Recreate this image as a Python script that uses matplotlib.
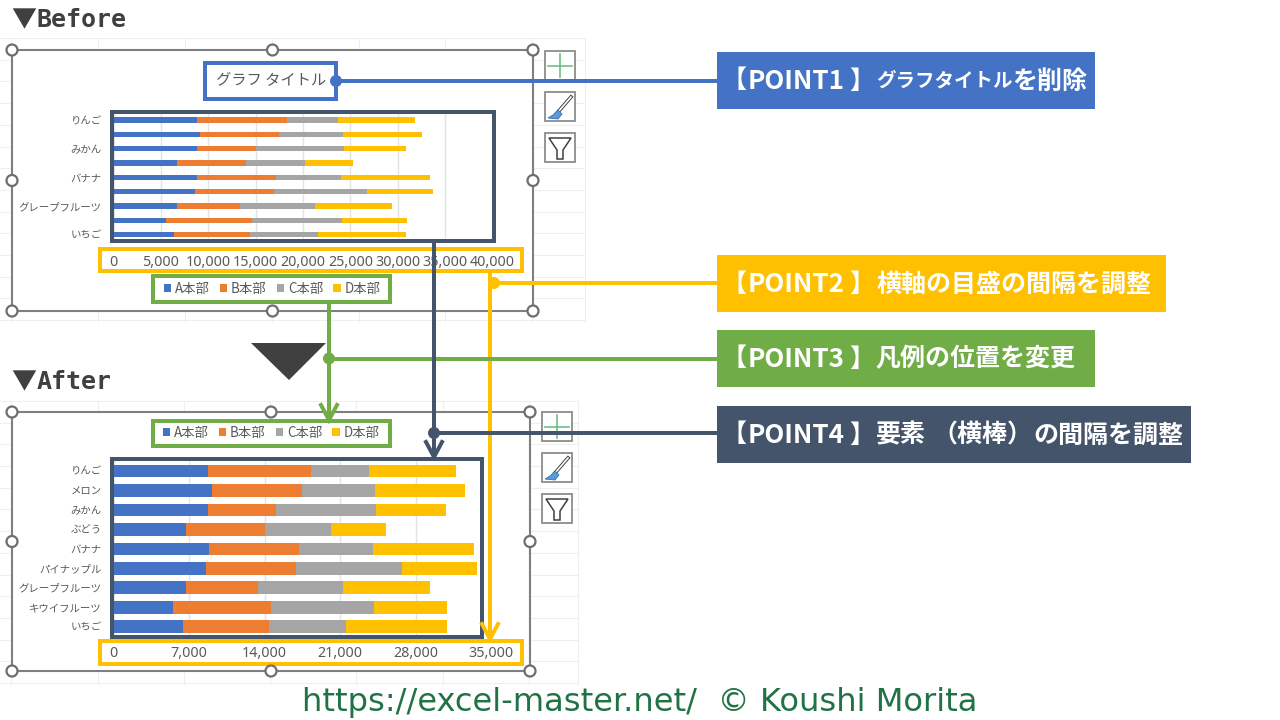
import matplotlib
matplotlib.use('Agg')
import matplotlib.pyplot as plt
from matplotlib.patches import Rectangle, Circle, Polygon

W, H = 1280, 720
JP = ['Noto Sans CJK JP', 'DejaVu Sans']
plt.rcParams['font.family'] = JP

categories = ['りんご', 'メロン', 'みかん', 'ぶどう', 'バナナ', 'パイナップル',
              'グレープフルーツ', 'キウイフルーツ', 'いちご']
before_labels = ['りんご', '', 'みかん', '', 'バナナ', '', 'グレープフルーツ', '', 'いちご']
a_dept = [8750, 9170, 8750, 6690, 8820, 8610, 6690, 5540, 6410]
b_dept = [9590, 8330, 6310, 7320, 8370, 8300, 6690, 9030, 8020]
c_dept = [5330, 6760, 9240, 6140, 6830, 9800, 7880, 9550, 7110]
d_dept = [8120, 8300, 6520, 5090, 9410, 7010, 8120, 6800, 9340]
series_names = ['A本部', 'B本部', 'C本部', 'D本部']
series_colors = ['#4472C4', '#ED7D31', '#A5A5A5', '#FFC000']
before_ticks = [0, 5000, 10000, 15000, 20000, 25000, 30000, 35000, 40000]
after_ticks = [0, 7000, 14000, 21000, 28000, 35000]

BLUE, YELLOW, GREEN, NAVY = '#4472C4', '#FFC000', '#70AD47', '#44546A'
DARK = '#404040'
TEXT = '#595959'
GRID = '#EEEEEE'
EDGE = '#7F7F7F'


def px(v):
    return v * 72 / 100


fig = plt.figure(figsize=(W / 100, H / 100), dpi=100)
bg = fig.add_axes([0, 0, 1, 1], zorder=0)
fg = fig.add_axes([0, 0, 1, 1], zorder=5)
for a in (bg, fg):
    a.set_xlim(0, W)
    a.set_ylim(H, 0)
    a.axis('off')
fg.patch.set_alpha(0)


def sheet(left, right, top, bottom, xs, step):
    y = top
    while y <= bottom:
        bg.plot([left, right], [y, y], color=GRID, lw=0.8)
        y += step
    for x in xs:
        bg.plot([x, x], [top, bottom], color=GRID, lw=0.8)


sheet(0, 585, 38, 322, [11, 98, 185, 272, 359, 445, 532, 585], 21.7)
sheet(0, 578, 401, 684, [11, 98, 184, 270, 356, 443, 529, 578], 21.7)


def frame(l, t, r, b):
    bg.add_patch(Rectangle((l, t), r - l, b - t, fc='white', ec=EDGE, lw=1.5, zorder=3))
    for x in (l, (l + r) / 2, r):
        for y in (t, (t + b) / 2, b):
            if x == (l + r) / 2 and y == (t + b) / 2:
                continue
            fg.add_patch(Circle((x, y), 5.5, fc='white', ec='#6E6E6E', lw=1.6, zorder=8))


def buttons(x, t1, t2, t3):
    w, h = 30, 29
    for t in (t1, t2, t3):
        bg.add_patch(Rectangle((x, t), w, h, fc='white', ec='#8C8C8C', lw=1.3, zorder=3))
    # plus
    bg.plot([x + 15, x + 15], [t1 + 3, t1 + 26], color='#6FBF85', lw=1.2, zorder=4)
    bg.plot([x + 3, x + 27], [t1 + 15, t1 + 15], color='#6FBF85', lw=1.2, zorder=4)
    # brush
    bg.plot([x + 26, x + 13], [t2 + 5, t2 + 20], color='#404040', lw=2.6, zorder=4)
    bg.plot([x + 26, x + 13], [t2 + 5, t2 + 20], color='white', lw=1.2, zorder=4)
    bg.add_patch(Polygon([(x + 13, t2 + 18), (x + 17, t2 + 22), (x + 13, t2 + 27),
                          (x + 3, t2 + 26), (x + 8, t2 + 23)],
                         fc='#5B9BD5', ec='#2E75B6', lw=0.6, zorder=4))
    # funnel
    bg.add_patch(Polygon([(x + 4, t3 + 5), (x + 26, t3 + 5), (x + 18, t3 + 17), (x + 18, t3 + 26),
                          (x + 12, t3 + 26), (x + 12, t3 + 17)],
                         fc='white', ec='#404040', lw=1.1, zorder=4))


frame(12, 50, 533, 311)
frame(12, 412, 530, 671)
buttons(545, 51, 92, 133)
buttons(542, 412, 453, 494)


def bar_chart(left, right, top, bottom, xmax, ticks, ylabels, bar_h, pad, leg_xy):
    ax = fig.add_axes([left / W, 1 - bottom / H, (right - left) / W, (bottom - top) / H], zorder=2)
    ax.patch.set_alpha(0)
    pos = list(range(len(categories)))
    base = [0] * len(categories)
    for vals, name, col in zip([a_dept, b_dept, c_dept, d_dept], series_names, series_colors):
        ax.barh(pos, vals, height=bar_h, left=base, color=col, label=name, zorder=3)
        base = [p + q for p, q in zip(base, vals)]
    ax.set_xlim(0, xmax)
    ax.set_ylim(len(categories) - 0.5, -0.5)
    ax.set_yticks(pos)
    ax.set_yticklabels(ylabels, fontsize=7.5, color=TEXT)
    ax.set_xticks(ticks)
    ax.set_xticklabels([f'{t:,}' for t in ticks], fontsize=10.3, color=TEXT, family='Noto Sans')
    ax.tick_params(axis='both', length=0)
    ax.tick_params(axis='y', pad=px(12))
    ax.tick_params(axis='x', pad=px(pad))
    ax.grid(axis='x', color='#E4E4E4', lw=1, zorder=0)
    for s in ax.spines.values():
        s.set_visible(False)
    leg = ax.legend(loc='center', ncol=4, frameon=False, fontsize=9.6,
                    bbox_to_anchor=(leg_xy[0] / W, 1 - leg_xy[1] / H), bbox_transform=fig.transFigure,
                    handlelength=0.55, handleheight=0.55, handletextpad=0.3,
                    columnspacing=0.75, borderpad=0, borderaxespad=0)
    for t in leg.get_texts():
        t.set_color(TEXT)
    return ax


bar_chart(113.6, 492.6, 112.9, 242, 40000, before_ticks, before_labels, 0.37, 12.5, (272, 288.5))
bar_chart(113.6, 491, 461.3, 636.4, 35000, after_ticks, categories, 0.65, 10, (271, 433))

# title of the "before" chart
fg.text(271, 80.5, 'グラフ タイトル', fontsize=px(15.3), color=TEXT, ha='center', va='center')


def box(l, t, r, b, col, lw=4):
    fg.add_patch(Rectangle((l, t), r - l, b - t, fc='none', ec=col, lw=px(lw), zorder=6))


box(205, 63, 336, 99, BLUE)
box(111.5, 112, 494, 241, NAVY)
box(99.5, 249, 521.5, 271, YELLOW)
box(152.5, 276, 390, 302, GREEN)
box(111.5, 459, 482, 636.5, NAVY)
box(99.5, 641, 521.5, 663.5, YELLOW)
box(152.5, 421, 390, 445.5, GREEN)


def line(xs, ys, col, z=7):
    fg.plot(xs, ys, color=col, lw=px(4), solid_capstyle='butt', zorder=z)


def dot(x, y, col, z=7):
    fg.add_patch(Circle((x, y), 6, fc=col, ec='none', zorder=z))


def arrow(x, y, col, z=7):
    fg.plot([x - 8, x, x + 8], [y - 15, y, y - 15], color=col, lw=px(4),
            solid_joinstyle='miter', zorder=z)


# connectors, yellow under green under navy
line([336, 717], [81, 81], BLUE)
dot(336, 81, BLUE)

line([490, 490], [272, 636], YELLOW)
line([494, 717], [283, 283], YELLOW)
dot(494, 283, YELLOW)
arrow(490, 639, YELLOW)

line([329, 329], [303, 417], GREEN, z=7.2)
line([329, 717], [358.5, 358.5], GREEN, z=7.2)
dot(329, 358.5, GREEN, z=7.2)
arrow(329, 420, GREEN, z=7.2)

line([434, 434], [243, 455], NAVY, z=7.4)
line([434, 717], [433, 433], NAVY, z=7.4)
dot(434, 433, NAVY, z=7.4)
arrow(434, 457, NAVY, z=7.4)

# big triangle between the charts
fg.add_patch(Polygon([(251, 343), (326, 343), (289, 380)], fc=DARK, ec='none', zorder=6))

# headers
for y, word in ((20, 'Before'), (382, 'After')):
    fg.text(23.5, y, '▼', fontsize=px(25), color=DARK, ha='center', va='center', family=JP)
    fg.text(37, y, word, fontsize=18, color=DARK, ha='left', va='center',
            family='DejaVu Sans Mono', weight='bold')


# callout labels
def callout(t, r, col, num, pieces):
    fg.add_patch(Rectangle((717, t), r - 717, 57, fc=col, ec='none', zorder=6))
    y = t + 29.5
    kw = dict(color='white', va='center', ha='left', weight='bold', zorder=9, family=JP)
    fg.text(721, y, '【', fontsize=px(25), **kw)
    fg.text(748, y, f'POINT{num}', fontsize=px(26), **kw)
    fg.text(849, y, '】', fontsize=px(25), **kw)
    for x, s, size in pieces:
        fg.text(x, y, s, fontsize=px(size), **kw)


callout(52, 1095, BLUE, 1, [(876, 'グラフタイトル', 19.5), (1012, 'を削除', 25)])
callout(255, 1166, YELLOW, 2, [(876, '横軸の目盛の間隔を調整', 25)])
callout(330, 1095, GREEN, 3, [(876, '凡例の位置を変更', 25)])
callout(406, 1191, NAVY, 4, [(876, '要素', 25), (932, '（横棒）', 25), (1033, 'の間隔を調整', 25)])

# footer
fg.text(640, 702, 'https://excel-master.net/  © Koushi Morita', fontsize=23.1, color='#217346',
        ha='center', va='center', family='DejaVu Sans')

fig.savefig('out.png', dpi=100)
